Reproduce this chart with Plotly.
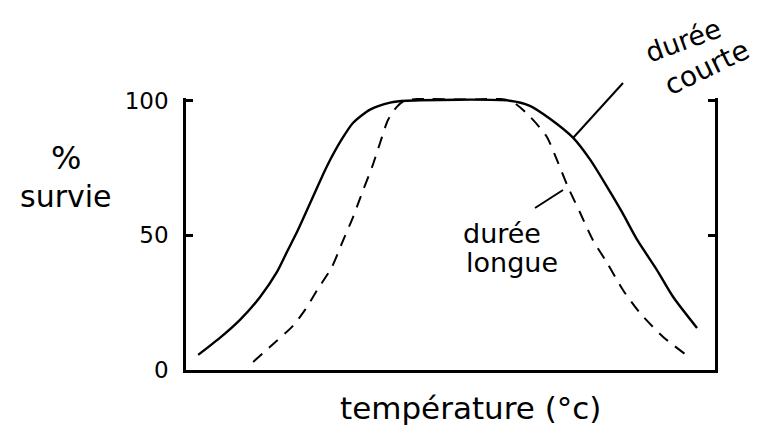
import plotly.graph_objects as go

# Temperature (arbitrary units, 0-100 across the axis) and % survival
temp_courte = [2.3, 6.4, 10.2, 14.0, 17.2, 19.1, 21.0, 22.9, 24.6, 26.6, 29.4, 31.6, 34.8, 38.6, 41.7,
               61.2, 65.0, 68.8, 73.2, 76.4, 79.6, 82.4, 85.3, 89.0, 92.1, 96.6]
surv_courte = [5.6, 11.9, 18.6, 27.1, 36.4, 43.9, 51.3, 59.5, 66.9, 75.5, 85.5, 91.8, 96.7, 99.3, 100,
               100, 98.1, 93.3, 86.2, 78.1, 68.0, 58.7, 48.3, 37.2, 27.1, 15.6]

temp_longue = [12.7, 15.9, 20.2, 22.5, 24.8, 27.6, 29.5, 31.6, 33.5, 35.2, 36.7, 38.2, 39.9, 41.4,
               61.2, 65.0, 68.2, 70.1, 72.2, 74.5, 76.9, 79.6, 82.6, 85.8, 90.2, 95.3]
surv_longue = [3.0, 8.6, 16.4, 22.3, 29.7, 38.3, 47.2, 56.9, 66.9, 75.5, 84.4, 92.9, 97.8, 100,
               100, 94.1, 86.6, 78.1, 68.0, 58.4, 48.3, 39.8, 29.7, 21.2, 12.3, 4.5]

y_ticks = [0, 50, 100]
y_tick_labels = ["0", "50", "100"]

FONT = "DejaVu Sans"

# page has an 8px body margin; figure is sized so it fits the window
W, H = 755, 433
L, R, T, B = 178, 48, 90, 71
PW, PH = W - L - R, H - T - B


def px(x):  # screen x -> paper
    return (x - 8 - L) / PW


def py(y):  # screen y -> paper
    return (H - B - (y - 8)) / PH


fig = go.Figure()
fig.add_trace(go.Scatter(x=temp_courte, y=surv_courte, mode="lines",
                         line=dict(color="black", width=2.4, shape="spline", smoothing=0.7),
                         name="durée courte", hoverinfo="skip"))
fig.add_trace(go.Scatter(x=temp_longue, y=surv_longue, mode="lines",
                         line=dict(color="black", width=2, shape="spline", smoothing=0.7, dash="12px,9px"),
                         name="durée longue", hoverinfo="skip"))

fig.update_layout(
    width=W, height=H,
    margin=dict(l=L, r=R, t=T, b=B),
    paper_bgcolor="white", plot_bgcolor="white",
    showlegend=False,
    font=dict(family=FONT, color="black"),
    xaxis=dict(range=[0, 100], showline=True, linecolor="black", linewidth=2.5,
               showgrid=False, zeroline=False, showticklabels=False, ticks="", mirror=False),
    yaxis=dict(range=[0, 101], showline=True, linecolor="black", linewidth=2.5,
               showgrid=False, zeroline=False, ticks="inside", ticklen=7, tickwidth=2.5,
               tickcolor="black", mirror="ticks", tickvals=y_ticks, ticktext=y_tick_labels,
               tickfont=dict(size=23, family=FONT), ticklabelstandoff=10),
)

def label(text, x, y, size, angle=0):
    fig.add_annotation(text=text, xref="paper", yref="paper", x=px(x), y=py(y),
                       showarrow=False, textangle=angle, font=dict(size=size, family=FONT),
                       xanchor="center", yanchor="middle")

label("température (°c)", 470, 408, 31)
label("%", 66, 158, 32)
label("survie", 66, 196, 30)
label("durée", 502, 233, 27)
label("longue", 512, 262, 27)
label("durée", 683, 40, 27, -20)
label("courte", 707, 68, 28, -26)

for (x0, y0, x1, y1) in [(573, 138, 623, 83), (535, 208, 563, 190)]:
    fig.add_shape(type="line", xref="paper", yref="paper",
                  x0=px(x0), y0=py(y0), x1=px(x1), y1=py(y1),
                  line=dict(color="black", width=2))

fig.write_html("out.html")
